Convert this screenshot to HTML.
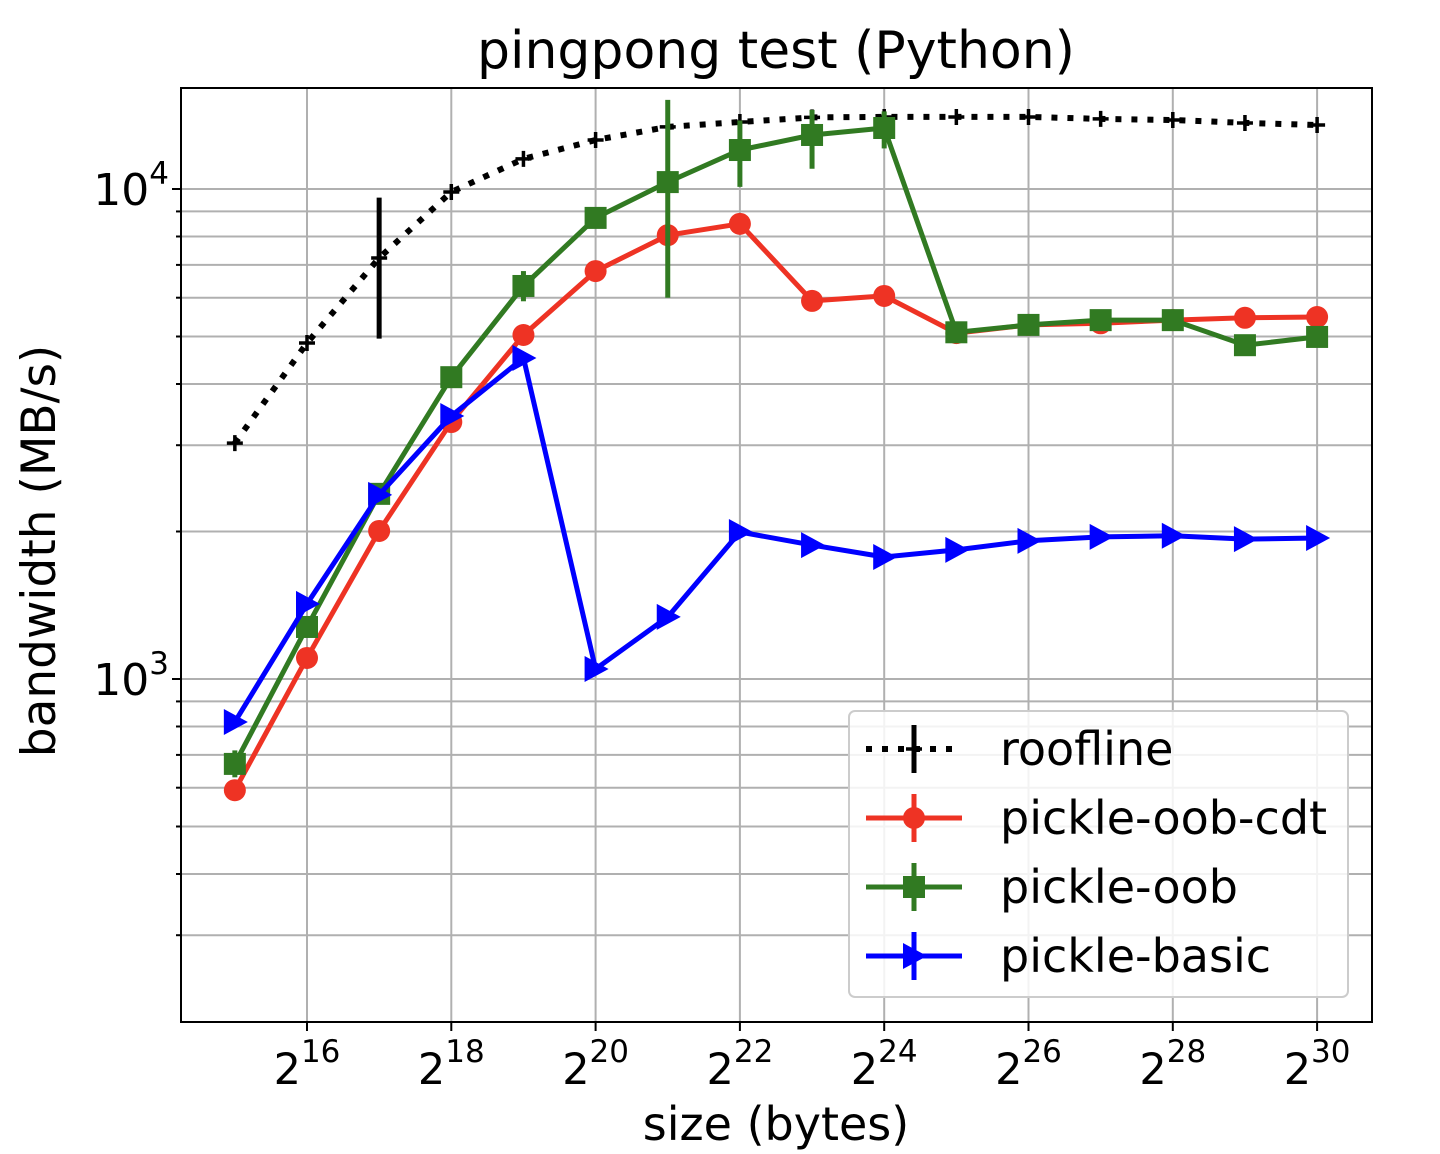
<!DOCTYPE html>
<html><head><meta charset="utf-8"><style>
html,body{margin:0;padding:0;background:#fff;}
svg{display:block;font-family:"DejaVu Sans","Liberation Sans",sans-serif;}
</style></head><body>
<svg id="chart" width="1440" height="1154" viewBox="0 0 1440 1154" xmlns="http://www.w3.org/2000/svg">
<rect x="0" y="0" width="1440" height="1154" fill="#fff"/>
<g id="grid"></g>
<g id="series"></g>
<rect x="181" y="88" width="1191" height="934" fill="none" stroke="#000" stroke-width="2"/>
<g id="ticks"></g>
<text x="776" y="68" font-size="52" text-anchor="middle">pingpong test (Python)</text>
<text x="776" y="1140" font-size="46" text-anchor="middle">size (bytes)</text>
<text transform="translate(55,551) rotate(-90)" font-size="47" text-anchor="middle">bandwidth (MB/s)</text>
<g id="legend"></g>
</svg>
<script>
const exponents=[15,16,17,18,19,20,21,22,23,24,25,26,27,28,29,30];
const roofline=[3030,4850,7230,9860,11520,12590,13390,13700,14000,14030,14030,14030,13900,13830,13640,13510];
const cdt=[593,1104,2005,3345,5035,6800,8050,8490,5910,6050,5080,5280,5320,5400,5460,5480];
const oob=[671,1277,2387,4130,6340,8730,10330,12010,12890,13320,5100,5280,5400,5400,4800,4990];
const basic=[817,1423,2376,3442,4520,1048,1339,1995,1876,1774,1834,1914,1950,1960,1930,1940];
// error bars: [index, low, high]
const rooflineErr=[[2,4950,9600]];
const oobErr=[[0,630,715],[4,5900,6800],[9,12100,14400],[6,6000,15200],[7,10100,13800],[8,11000,14500]];
const xTickExps=[16,18,20,22,24,26,28,30];
const yMajor=[1000,10000];
const yMinor=[300,400,500,600,700,800,900,2000,3000,4000,5000,6000,7000,8000,9000];

const NS="http://www.w3.org/2000/svg";
const L=181,R=1372,T=88,B=1022;
function xs(e){return 307+(e-16)*72.15;}
function ys(v){return 189-490*Math.log10(v/10000);}
function mk(tag,attrs,parent){const el=document.createElementNS(NS,tag);for(const k in attrs)el.setAttribute(k,attrs[k]);parent.appendChild(el);return el;}
const grid=document.getElementById('grid'),ser=document.getElementById('series'),tk=document.getElementById('ticks'),lg=document.getElementById('legend');

xTickExps.forEach(e=>{
  const g=mk('line',{x1:xs(e),x2:xs(e),y1:T,y2:B,stroke:'#b0b0b0','stroke-width':2},grid);
  
  
  const t=mk('line',{x1:xs(e),x2:xs(e),y1:B,y2:B+9,stroke:'#000','stroke-width':2},tk);
  
  
  const lb=mk('text',{x:xs(e),y:1084,'font-size':43,'text-anchor':'middle'},tk);
  
  
  lb.innerHTML='2<tspan dy="-22" font-size="31">'+e+'</tspan>';
});
yMajor.concat(yMinor).forEach(v=>{
  const y=ys(v); if(y<T||y>B)return;
  const major=yMajor.includes(v);
  const g=mk('line',{x1:L,x2:R,y1:y,y2:y,stroke:'#b0b0b0','stroke-width':2},grid);
  
  
  const t=mk('line',{x1:L-(major?9:5),x2:L,y1:y,y2:y,stroke:'#000','stroke-width':2},tk);
  
  
  if(major){
    const lb=mk('text',{x:L-12,y:y+16,'font-size':44,'text-anchor':'end'},tk);
    
    
    lb.innerHTML='10<tspan dy="-21" font-size="31">'+Math.round(Math.log10(v))+'</tspan>';
  }
});

function marker(kind,x,y,color,parent){
  let m;
  if(kind==='circle')m=mk('circle',{cx:x,cy:y,r:11,fill:color},parent);
  else if(kind==='square')m=mk('rect',{x:x-11,y:y-11,width:22,height:22,fill:color},parent);
  else if(kind==='tri')m=mk('polygon',{points:`${x+13},${y} ${x-11},${y-13} ${x-11},${y+13}`,fill:color},parent);
  else m=mk('path',{d:`M${x-8},${y}H${x+8}M${x},${y-8}V${y+8}`,stroke:color,'stroke-width':3.5},parent);
  return m;
}
function drawSeries(name,vals,color,kind,dash,errs){
  const g=mk('g',{},ser);
  
  
  const pts=vals.map((v,i)=>xs(exponents[i]).toFixed(1)+','+ys(v).toFixed(1)).join(' ');
  const attrs={points:pts,fill:'none',stroke:color,'stroke-width':dash?6:5,'stroke-linejoin':'round'};
  if(dash)attrs['stroke-dasharray']=dash;
  const pl=mk('polyline',attrs,g);
  
  
  (errs||[]).forEach(([i,lo,hi])=>{
    const e=mk('line',{x1:xs(exponents[i]),x2:xs(exponents[i]),y1:ys(lo),y2:ys(hi),stroke:color,'stroke-width':5},g);
    
    
  });
  vals.forEach((v,i)=>{
    const m=marker(kind,xs(exponents[i]),ys(v),color,g);
    
    
  });
}
drawSeries('roofline',roofline,'#000','plus','6,10',rooflineErr);
drawSeries('pickle-oob-cdt',cdt,'#ee3324','circle',null,[]);
drawSeries('pickle-oob',oob,'#317a22','square',null,oobErr);
drawSeries('pickle-basic',basic,'#0000ff','tri',null,[]);

const box=mk('rect',{x:849,y:711,width:499,height:286,rx:6,fill:'#fff','fill-opacity':0.85,stroke:'#ccc','stroke-width':2},lg);


const entries=[['roofline','#000','plus','6,10'],['pickle-oob-cdt','#ee3324','circle',null],['pickle-oob','#317a22','square',null],['pickle-basic','#0000ff','tri',null]];
entries.forEach(([n,c,k,d],i)=>{
  const y=749+i*69;
  const g=mk('g',{},lg);
  
  
  const a={x1:866,x2:962,y1:y,y2:y,stroke:c,'stroke-width':d?6:5};
  if(d)a['stroke-dasharray']=d;
  mk('line',a,g);
  mk('line',{x1:914,x2:914,y1:y-24,y2:y+24,stroke:c,'stroke-width':5},g);
  marker(k,914,y,c,g);
  const t=mk('text',{x:1000,y:y+16,'font-size':46},g);
  t.textContent=n;
});
</script>
</body></html>
